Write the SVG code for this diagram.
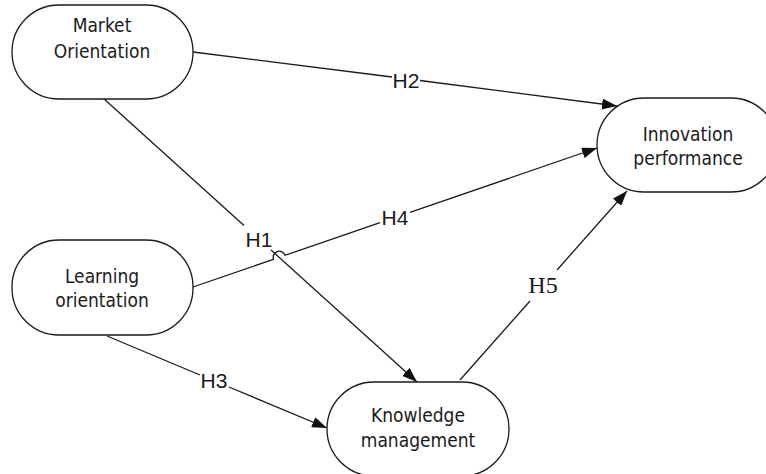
<svg xmlns="http://www.w3.org/2000/svg" width="766" height="474" viewBox="0 0 766 474">
<style>
.node{fill:#fff;stroke:#1a1a1a;stroke-width:1.3}
.nt{font-family:"DejaVu Sans Condensed","DejaVu Sans",sans-serif;font-stretch:condensed;font-size:19px;fill:#1a1a1a;text-anchor:middle}
.edge{fill:none;stroke:#1a1a1a;stroke-width:1.3}
.lbl{font-family:"Liberation Sans",Arial,sans-serif;font-size:21px;fill:#1a1a1a;text-anchor:middle}
.lbls{font-family:"Liberation Serif","Times New Roman",serif;font-size:24px;fill:#1a1a1a;text-anchor:middle}
</style>
<defs>
<marker id="arr" markerUnits="userSpaceOnUse" markerWidth="15" markerHeight="11" refX="15" refY="5.5" orient="auto">
<path d="M0,0 L15,5.5 L0,11 z" fill="#111"/>
</marker>
</defs>
<rect width="766" height="474" fill="#fff"/>
<g id="connectors">
<path class="edge" d="M193,52 L392,77"/>
<path class="edge" d="M420,80.5 L617,106" marker-end="url(#arr)"/>
<text class="lbl" x="406" y="88">H2</text>
<path class="edge" d="M103,98 L244,225.5"/>
<path class="edge" d="M271,250 L417,382" marker-end="url(#arr)"/>
<text class="lbl" x="259" y="247">H1</text>
<path class="edge" d="M193,287 L273.5,259.3 A6,6 0 0 1 285,255.3 L380,222.7"/>
<path class="edge" d="M410,212.4 L597,148" marker-end="url(#arr)"/>
<text class="lbl" x="395" y="225">H4</text>
<path class="edge" d="M107,336 L200,375"/>
<path class="edge" d="M229,387 L327,428" marker-end="url(#arr)"/>
<text class="lbl" x="214" y="388">H3</text>
<path class="edge" d="M460,380 L530,301"/>
<path class="edge" d="M557,270 L627,191" marker-end="url(#arr)"/>
<text class="lbls" x="543" y="293">H5</text>
</g>
<g id="market-orientation">
<rect class="node" x="12" y="5" width="181" height="94" rx="47"/>
<text class="nt" x="102" y="32">Market</text>
<text class="nt" x="102" y="58">Orientation</text>
</g>
<g id="innovation-performance">
<rect class="node" x="597" y="98" width="181" height="94" rx="47"/>
<text class="nt" x="688" y="141">Innovation</text>
<text class="nt" x="688" y="165">performance</text>
</g>
<g id="learning-orientation">
<rect class="node" x="12" y="240" width="181" height="95" rx="47"/>
<text class="nt" x="102" y="283">Learning</text>
<text class="nt" x="102" y="307">orientation</text>
</g>
<g id="knowledge-management">
<rect class="node" x="327" y="382" width="182" height="94" rx="47"/>
<text class="nt" x="418" y="422">Knowledge</text>
<text class="nt" x="418" y="447">management</text>
</g>
</svg>
